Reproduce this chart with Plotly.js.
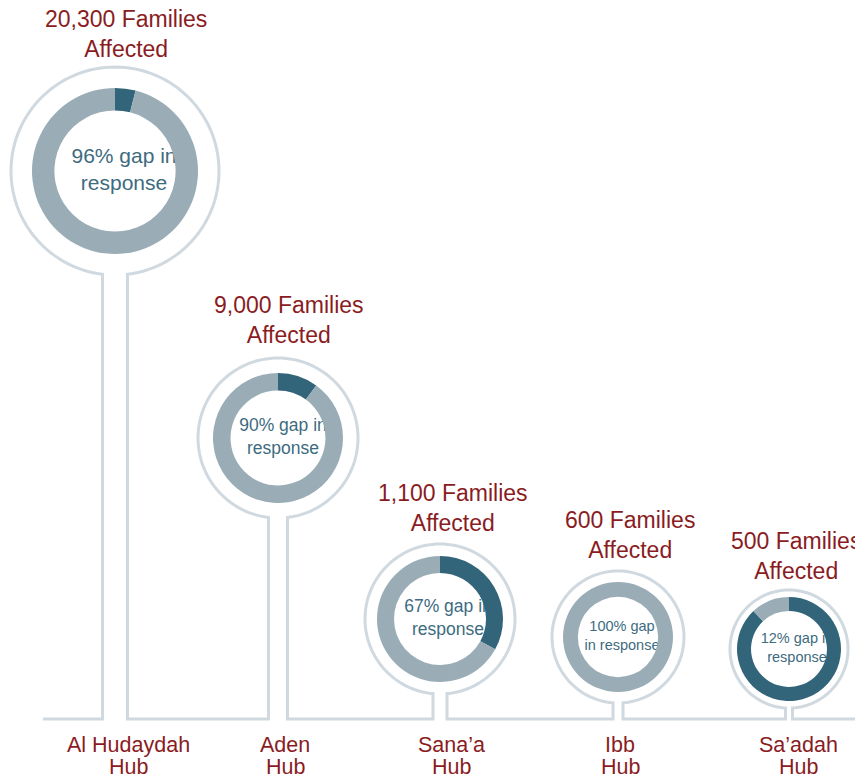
<!DOCTYPE html>
<html>
<head>
<meta charset="utf-8">
<script src="https://cdn.plot.ly/plotly-3.0.1.min.js"></script>
<style>html,body{margin:0;padding:0;background:#fff;}#chart{width:855px;height:781px;}</style>
</head>
<body>
<div id="chart"></div>
<script>
// ---- data ----
const hubNames = ['Al Hudaydah', 'Aden', 'Sana\u2019a', 'Ibb', 'Sa\u2019adah'];
const hubSuffix = 'Hub';
const familiesAffected = [20300, 9000, 1100, 600, 500];
const gapPct = [96, 90, 67, 100, 12];
const coveredPct = [4, 10, 33, 0, 88];
const centerLine1 = ['96% gap in', '90% gap in', '67% gap in', '100% gap', '12% gap in'];
const centerLine2 = ['response', 'response', 'response', 'in response', 'response'];

// ---- layout (pixel geometry, not data) ----
const W = 855, H = 781;
const cx = [115, 278, 440, 618, 789];
const cy = [171, 438, 619, 637, 649];
const donutR = [83, 65, 63, 55, 52];
const ringR = [104, 80, 75, 66, 59];
const stemHalf = [12.5, 9.5, 7, 5, 3.5];
const baseY = 719;
const titleX = [126, 289, 453, 630, 796];
const titleY = [34, 320, 508, 535, 556];
const textDX = [9, 5, 8, 4, 8];
const centerFont = [21, 17.5, 17.5, 14.5, 14.5];
const hubX = [128, 285, 451, 620, 798];
const hubY1 = 745, hubY2 = 767;

const DARK = '#33657a', LIGHT = '#9aadb7', RING = '#d0d9df', RED = '#8a1c1f', TEAL = '#3d6b80';
const FONT = '"Liberation Sans", Arial, sans-serif';

const traces = [];
// center text (cartesian layer, below pies so the ring clips it)
for (let i = 0; i < hubNames.length; i++) {
  traces.push({
    type: 'scatter', mode: 'text', x: [cx[i] + textDX[i]], y: [cy[i]],
    text: [centerLine1[i] + '<br>' + centerLine2[i]],
    textposition: 'middle center',
    textfont: {family: FONT, size: centerFont[i], color: TEAL},
    hoverinfo: 'skip', showlegend: false, cliponaxis: false
  });
}
// donuts
for (let i = 0; i < hubNames.length; i++) {
  const r = donutR[i];
  traces.push({
    type: 'pie', values: [coveredPct[i], gapPct[i]], labels: ['Response', 'Gap'],
    marker: {colors: [DARK, LIGHT], line: {width: 0}},
    hole: 0.73, sort: false, direction: 'clockwise', rotation: 0,
    textinfo: 'none', hoverinfo: 'skip', showlegend: false,
    domain: {x: [(cx[i] - r) / W, (cx[i] + r) / W], y: [1 - (cy[i] + r) / H, 1 - (cy[i] - r) / H]}
  });
}

// outline path: baseline + stems + rings
let pts = [[43, baseY]];
for (let i = 0; i < hubNames.length; i++) {
  const g = stemHalf[i], R = ringR[i];
  const d = Math.asin(g / R);
  const dy = Math.sqrt(R * R - g * g);
  pts.push([cx[i] - g, baseY]);
  pts.push([cx[i] - g, cy[i] + dy]);
  const a0 = Math.PI / 2 + d, a1 = 2.5 * Math.PI - d;
  const n = 120;
  for (let k = 1; k <= n; k++) {
    const a = a0 + (a1 - a0) * k / n;
    pts.push([cx[i] + R * Math.cos(a), cy[i] + R * Math.sin(a)]);
  }
  pts.push([cx[i] + g, baseY]);
}
pts.push([W + 5, baseY]);
const path = 'M' + pts.map(p => p[0].toFixed(2) + ',' + p[1].toFixed(2)).join(' L');

const annotations = [];
for (let i = 0; i < hubNames.length; i++) {
  annotations.push({
    x: titleX[i], y: titleY[i], xref: 'x', yref: 'y', showarrow: false,
    xanchor: 'center', yanchor: 'middle',
    text: familiesAffected[i].toLocaleString('en-US') + ' Families<br>Affected',
    font: {family: FONT, size: 23, color: RED}
  });
  annotations.push({
    x: hubX[i], y: hubY1, xref: 'x', yref: 'y', showarrow: false,
    xanchor: 'center', yanchor: 'middle',
    text: hubNames[i],
    font: {family: FONT, size: 21.5, color: RED}
  });
  annotations.push({
    x: hubX[i], y: hubY2, xref: 'x', yref: 'y', showarrow: false,
    xanchor: 'center', yanchor: 'middle',
    text: hubSuffix,
    font: {family: FONT, size: 21.5, color: RED}
  });
}

const layout = {
  width: W, height: H, margin: {l: 0, r: 0, t: 0, b: 0},
  paper_bgcolor: '#fff', plot_bgcolor: 'rgba(0,0,0,0)',
  xaxis: {range: [0, W], visible: false, fixedrange: true},
  yaxis: {range: [H, 0], visible: false, fixedrange: true},
  showlegend: false, hovermode: false,
  shapes: [{type: 'path', xref: 'x', yref: 'y', path: path, line: {color: RING, width: 3}, layer: 'below'}],
  annotations: annotations
};

Plotly.newPlot('chart', traces, layout, {displayModeBar: false, staticPlot: true});
</script>
</body>
</html>
